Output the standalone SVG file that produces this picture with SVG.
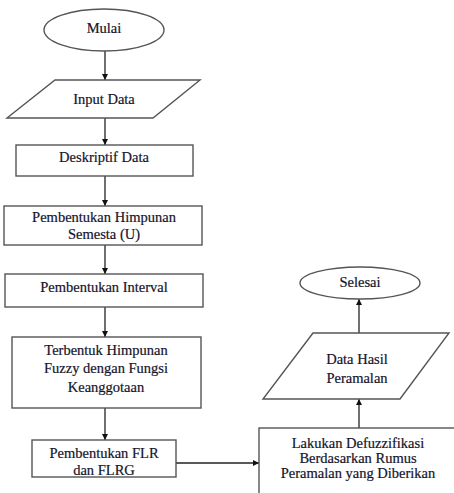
<svg xmlns="http://www.w3.org/2000/svg" width="454" height="493" viewBox="0 0 454 493">
<defs>
<marker id="ah" viewBox="0 0 10 10" refX="10" refY="5" markerWidth="6" markerHeight="6" orient="auto" markerUnits="userSpaceOnUse">
<path d="M0,0 L10,5 L0,10 z" fill="#111"/>
</marker>
<style>
.s{fill:#fff;stroke:#555;stroke-width:1.4}
text{font-family:'Liberation Serif','Times New Roman',serif;font-size:14.5px;fill:#14142a;stroke:#14142a;stroke-width:0.2;text-anchor:middle}
.c{stroke:#222;stroke-width:1.3;fill:none;marker-end:url(#ah)}
</style>
</defs>
<rect width="454" height="493" fill="#fff"/>
<g id="connectors">
<line class="c" x1="105" y1="51" x2="105" y2="80"/>
<line class="c" x1="105" y1="118" x2="105" y2="145"/>
<line class="c" x1="105" y1="176" x2="105" y2="206"/>
<line class="c" x1="105" y1="245" x2="105" y2="274"/>
<line class="c" x1="105" y1="307" x2="105" y2="337"/>
<line class="c" x1="105" y1="408" x2="105" y2="440"/>
<line class="c" x1="176" y1="463" x2="259" y2="463"/>
<line class="c" x1="359" y1="428" x2="359" y2="399"/>
<line class="c" x1="359" y1="333" x2="359" y2="299"/>
</g>
<g id="mulai">
<ellipse class="s" cx="104" cy="30" rx="60" ry="21"/>
<text x="104" y="32.5">Mulai</text>
</g>
<g id="input-data">
<polygon class="s" points="55,80 200,80 153,118 7,118"/>
<text x="104" y="104">Input Data</text>
</g>
<g id="deskriptif-data">
<rect class="s" x="16" y="145" width="177" height="31"/>
<text x="104" y="161.5">Deskriptif Data</text>
</g>
<g id="himpunan-semesta">
<rect class="s" x="4" y="206" width="198" height="39"/>
<text x="104" y="222">Pembentukan Himpunan</text>
<text x="104" y="239">Semesta (U)</text>
</g>
<g id="interval">
<rect class="s" x="5" y="274" width="198" height="33"/>
<text x="104" y="292">Pembentukan Interval</text>
</g>
<g id="himpunan-fuzzy">
<rect class="s" x="12" y="337" width="189" height="71"/>
<text x="106" y="355">Terbentuk Himpunan</text>
<text x="106" y="373">Fuzzy dengan Fungsi</text>
<text x="106" y="392">Keanggotaan</text>
</g>
<g id="flr">
<rect class="s" x="32" y="440" width="144" height="37"/>
<text x="104" y="458">Pembentukan FLR</text>
<text x="104" y="475">dan FLRG</text>
</g>
<g id="defuzzifikasi">
<rect class="s" x="259" y="428" width="210" height="80"/>
<text x="358" y="448">Lakukan Defuzzifikasi</text>
<text x="358" y="463">Berdasarkan Rumus</text>
<text x="358" y="478">Peramalan yang Diberikan</text>
</g>
<g id="data-hasil">
<polygon class="s" points="313,333 449,333 400,399 263,399"/>
<text x="357" y="364">Data Hasil</text>
<text x="357" y="383">Peramalan</text>
</g>
<g id="selesai">
<ellipse class="s" cx="360" cy="283" rx="60" ry="16"/>
<text x="360" y="287">Selesai</text>
</g>
</svg>
